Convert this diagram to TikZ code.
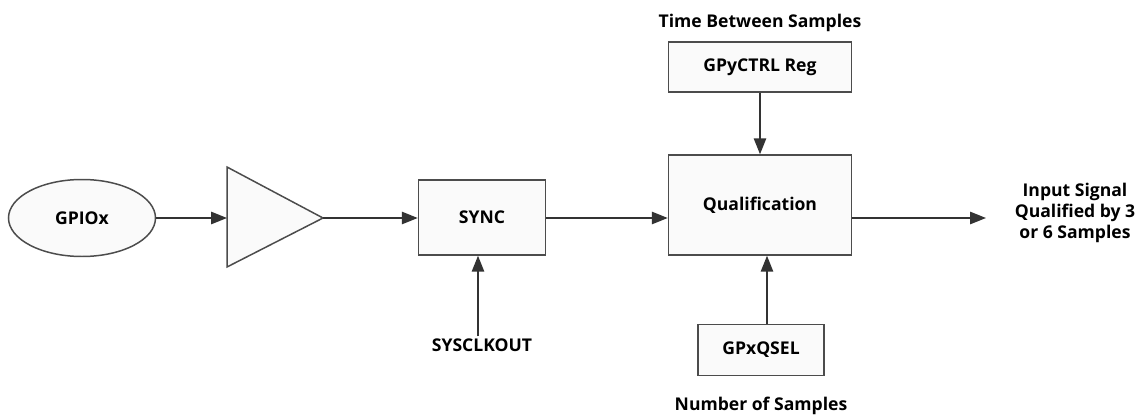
\documentclass[tikz,border=0pt]{standalone}
\usepackage{fontspec}
\setmainfont{Open Sans}
\usepackage{tikz}
\usetikzlibrary{positioning,calc,arrows.meta,shapes}

\tikzset{
  blk/.style={draw=black!70,fill=black!2,line width=0.85pt,font=\bfseries,align=center,inner sep=0pt},
  lbl/.style={font=\bfseries,align=center,inner sep=1pt},
  sig/.style={draw=black!80,line width=0.85pt,-{Triangle[length=9pt,width=7pt]}}
}

\begin{document}
\begin{tikzpicture}[font=\fontsize{10}{11.4}\selectfont]
      \useasboundingbox (0,0) rectangle (22.84,8.28);

      \node[blk,ellipse,minimum width=2.94cm,minimum height=1.54cm] (gpio) at (1.64,3.92) {GPIOx};
      \coordinate (ampin) at (4.54,3.92);
      \coordinate (ampout) at (6.46,3.92);
      \draw[draw=black!70,fill=black!2,line width=0.85pt] (ampin |- 0,4.94) -- (ampout) -- (ampin |- 0,2.94) -- cycle;

      \node[blk,minimum width=2.54cm,minimum height=1.5cm] (sync) at (9.64,3.93) {SYNC};
      \node[blk,minimum width=3.66cm,minimum height=2cm] (qual) at (15.2,4.18) {Qualification};
      \node[blk,minimum width=3.66cm,minimum height=1cm] (ctrl) at (15.2,6.94) {GPyCTRL Reg};
      \node[blk,minimum width=2.52cm,minimum height=1.02cm] (qsel) at (15.22,1.28) {GPxQSEL};

      \node[lbl] (time) at (15.2,7.82) {Time Between Samples};
      \node[lbl] (nsmp) at (15.22,0.17) {Number of Samples};
      \node[lbl] (clk) at (9.64,1.38) {SYSCLKOUT};
      \node[lbl] (out) at (21.5,4.02) {Input Signal\\Qualified by 3\\or 6 Samples};
      \coordinate (outend) at (19.72,3.92);

      \draw[sig] (gpio.east) -- (ampin);
      \draw[sig] (ampout) -- (ampout -| sync.west);
      \draw[sig] (sync.east |- ampout) -- (ampout -| qual.west);
      \draw[sig] (qual.east |- ampout) -- (outend);
      \draw[sig] (ctrl.south) -- (qual.north);
      \draw[sig] ([xshift=0.12cm]qsel.north) -- ([xshift=0.12cm]qsel.north |- qual.south);
      \draw[sig] ([xshift=-0.08cm]clk.north) -- ([xshift=-0.08cm]clk.north |- sync.south);
    \end{tikzpicture}
\end{document}
